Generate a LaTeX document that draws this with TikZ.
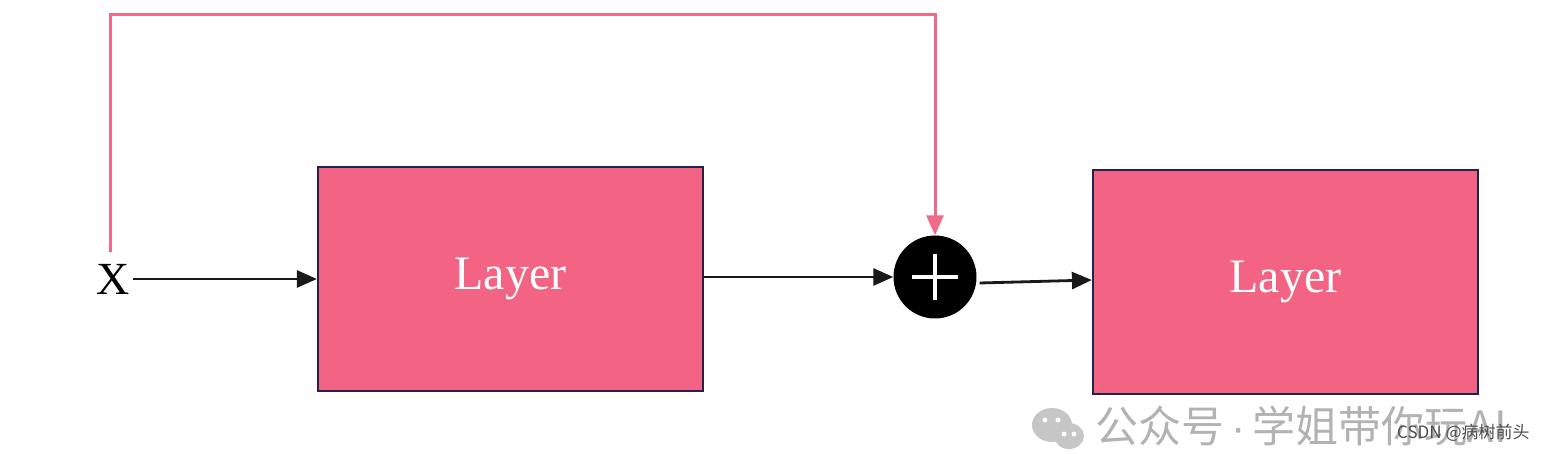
\documentclass[tikz,border=0pt]{standalone}
\usepackage{fontspec}
\setmainfont{Liberation Serif}
\newfontfamily\cjk{Noto Sans CJK SC}
\newfontfamily\latinsans{Liberation Sans}
\usetikzlibrary{calc,arrows.meta}
\definecolor{layerpink}{HTML}{F36484}
\definecolor{skippink}{HTML}{F06A88}
\definecolor{boxedge}{HTML}{22224A}

\begin{document}
\begin{tikzpicture}[x=1pt,y=-1pt,>={Triangle[length=20pt,width=17pt]},
  layer/.style={draw=boxedge,line width=2.2pt,fill=layerpink,minimum width=385pt,minimum height=224pt,inner sep=0pt,text=white,font=\fontsize{48}{52}\selectfont},
  flow/.style={->,line width=2.8pt,black!90},
  skip/.style={->,line width=3pt,skippink}]
  \useasboundingbox (0,0) rectangle (1559,454);
  % Input and the two layers
  \node[font=\fontsize{46}{48}\selectfont] (x) at (113,279) {X};
  \node[layer] (layerA) at (510.5,279) {Layer};
  \node[layer] (layerB) at (1285.5,282) {Layer};
  % Adding node
  \node[circle,fill=black,minimum size=83pt,inner sep=0pt,
    path picture={
      \draw[white,line width=4pt] ($(path picture bounding box.center)+(-23,0)$) -- +(46,0);
      \draw[white,line width=4pt] ($(path picture bounding box.center)+(0,-23)$) -- +(0,46);
    }] (add) at (935,277) {};
  % Main flow
  \draw[flow] (x.east) -- (layerA.west);
  \draw[flow] (layerA.east |- add.west) -- (add.west);
  \draw[flow] ($(add.east)+(3,6)$) -- ($(layerB.west)+(0,-2)$);
  % Skip connection
  \coordinate (skipstart) at (110,252);
  \draw[skip] (skipstart) -- ++(0,-237) -| (add.north);
  % Watermark
  \fill[gray!45] (1052,425) ellipse (20 and 17);
  \fill[gray!45] (1069,436) ellipse (15 and 13);
  \foreach \ex/\ey in {1045/420,1058/420,1064/434,1074/434}{
    \fill[white] (\ex,\ey) circle (2.5);
  }
  \node[anchor=west,inner sep=0pt,text=gray!60,font=\cjk\fontsize{43}{46}\selectfont] (wm) at (1095,426) {公众号\,{\latinsans·}\,学姐带你玩AI};
  \node[anchor=west,inner sep=0pt,text=black!70,font=\cjk\fontsize{17}{20}\selectfont] (csdn) at (1397,433) {CSDN @病树前头};
\end{tikzpicture}
\end{document}
